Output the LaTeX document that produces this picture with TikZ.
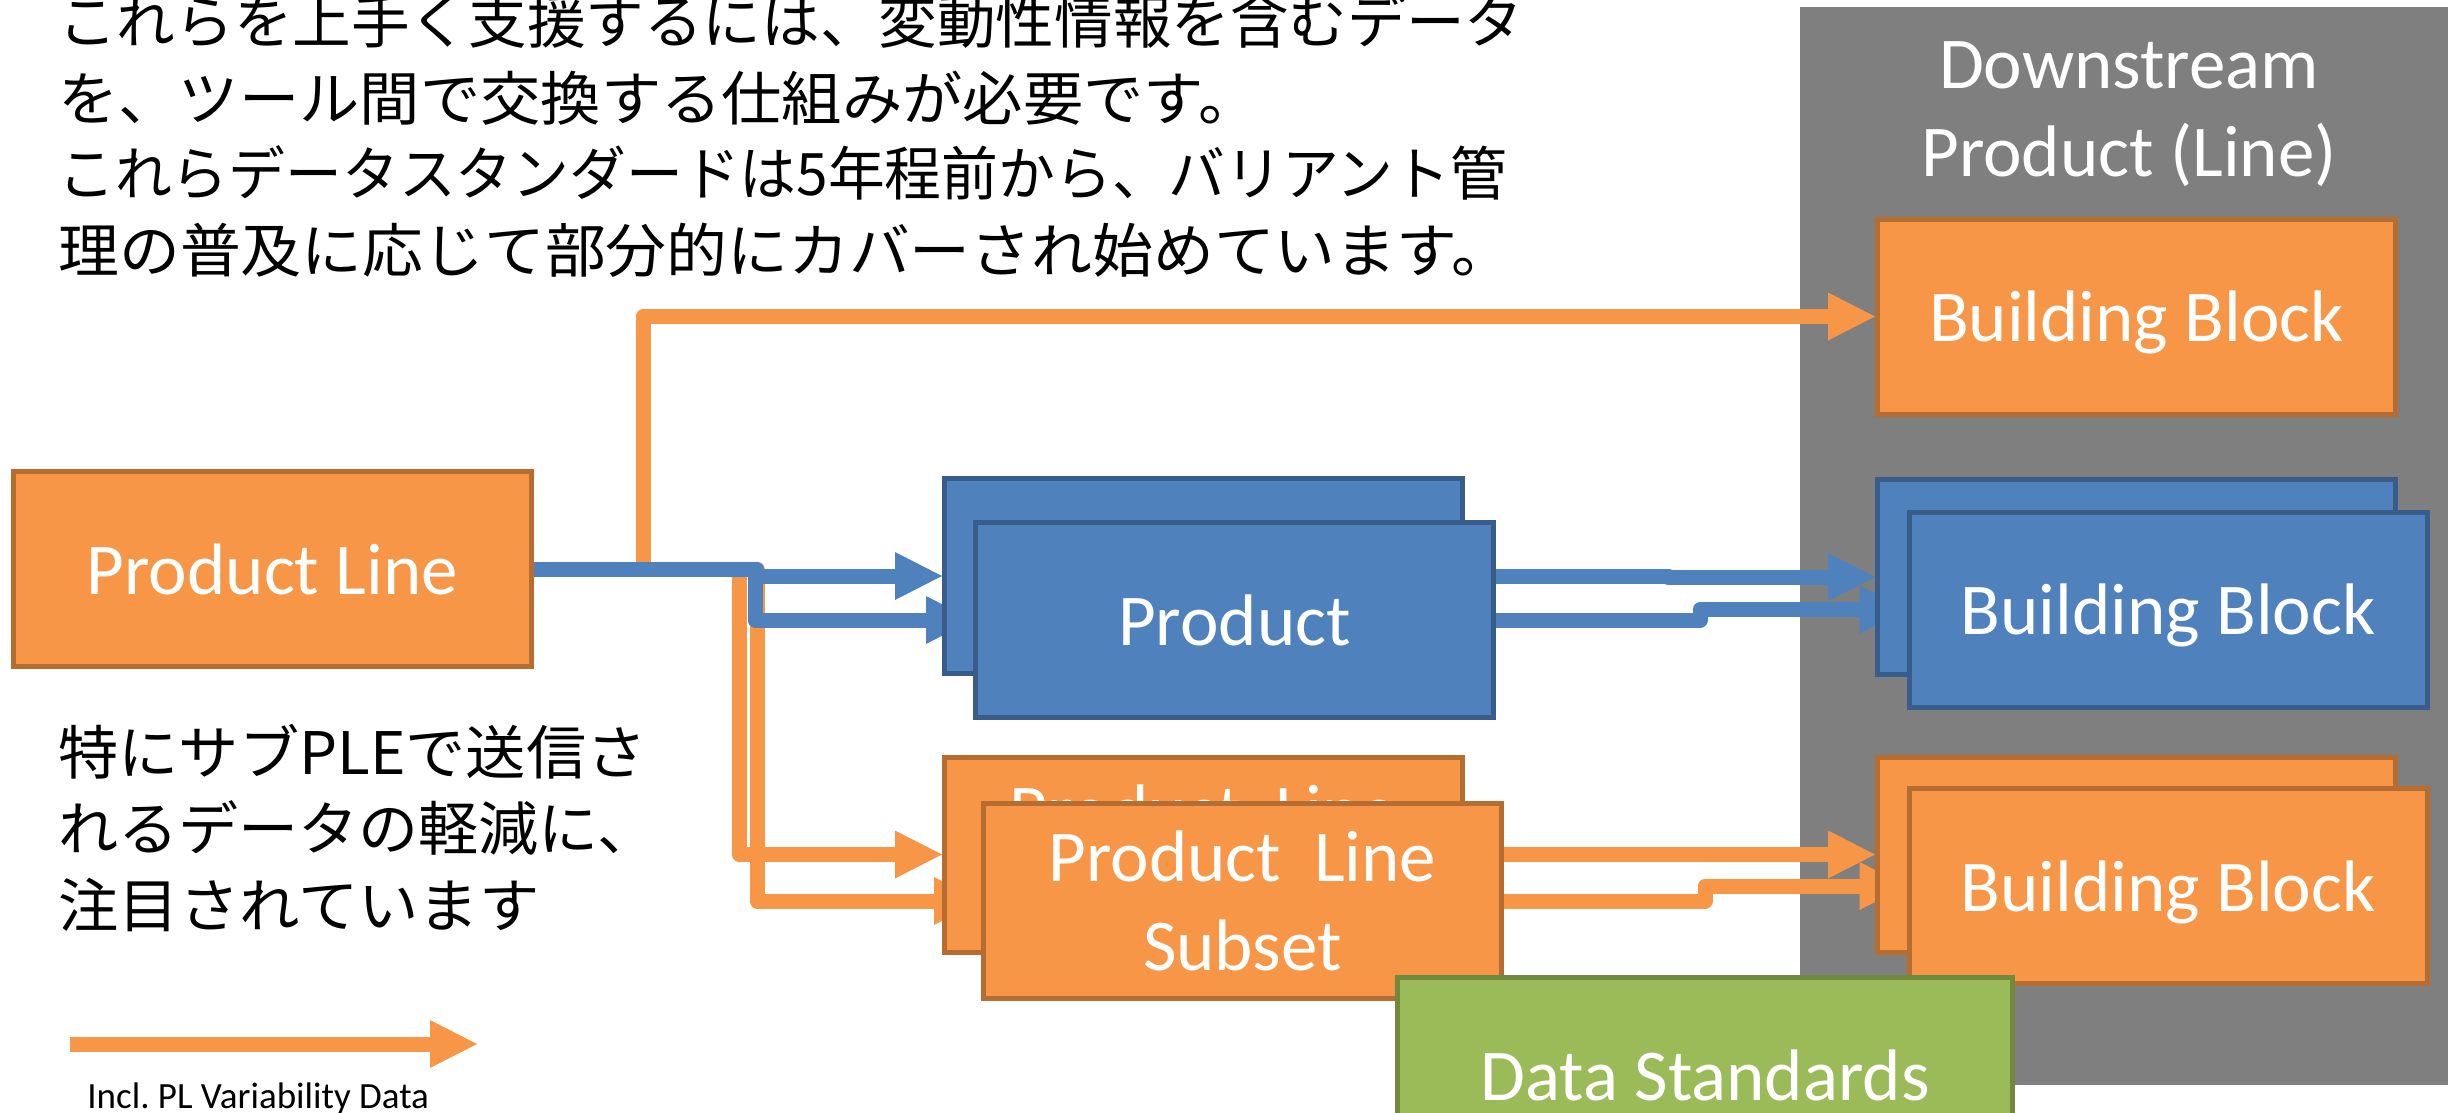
\documentclass[tikz,border=0pt]{standalone}
\usepackage{graphicx}
\usepackage{fontspec}
\setmainfont{Carlito}
\newfontfamily\jpfont{Noto Sans CJK JP}
\usetikzlibrary{arrows.meta}
\definecolor{orfill}{HTML}{F79646}
\definecolor{ordraw}{HTML}{B66D31}
\definecolor{blfill}{HTML}{4F81BD}
\definecolor{bldraw}{HTML}{385D8A}
\definecolor{grfill}{HTML}{9BBB59}
\definecolor{grdraw}{HTML}{71893F}
\definecolor{panelgray}{HTML}{7F7F7F}
\begin{document}
\begin{tikzpicture}[x=0.5pt,y=-0.5pt,
  box/.style={rectangle, line width=2.5pt, minimum width=259pt, minimum height=97.5pt,
    inner sep=0pt, text=white, font=\fontsize{36.5pt}{44.5pt}\selectfont},
  obox/.style={box, fill=orfill, draw=ordraw},
  bbox/.style={box, fill=blfill, draw=bldraw},
  gbox/.style={box, fill=grfill, draw=grdraw},
  oneline/.style={text height=25pt, text depth=0pt},
  conn/.style={line width=7.5pt, line join=round,
    -{Triangle[length=23.5pt,width=24pt,line width=0pt]}},
  oconn/.style={conn, draw=orfill},
  bconn/.style={conn, draw=blfill},
  jp/.style={font=\jpfont\fontsize{29.3pt}{38pt}\selectfont, anchor=base west, inner sep=0pt},
]
\useasboundingbox (0,0) rectangle (2448,1113);
\clip (0,0) rectangle (2448,1113);

% downstream panel
\fill[panelgray] (1800,7) rectangle (2470,1085);
\node[inner sep=0pt, text=white, align=center, font=\fontsize{36.5pt}{44pt}\selectfont]
  (hdr) at (2129,114) {Downstream\\Product (Line)};

% Japanese texts
\node[jp] (t1) at (58,44) {これらを上手く支援するには、変動性情報を含むデータ};
\node[jp] (t2) at (58,120) {\scalebox{1.029}[1]{を、ツール間で交換する仕組みが必要です。}};
\node[jp] (t3) at (58,196) {\scalebox{0.969}[1]{これらデータスタンダードは5年程前から、バリアント管}};
\node[jp] (t4) at (58,272) {\scalebox{1.038}[1]{理の普及に応じて部分的にカバーされ始めています。}};
\node[jp] (m1) at (58,774) {\scalebox{1.028}[1]{特にサブPLEで送信さ}};
\node[jp] (m2) at (58,850) {\scalebox{1.025}[1]{れるデータの軽減に、}};
\node[jp] (m3) at (58,927) {\scalebox{1.03}[1]{注目されています}};

% main nodes
\path (272.5,569) node[obox, oneline] (pl) {Product Line};
\path (2136.5,316.5) node[obox, oneline] (bbt) {Building Block};

% anchors for back/front boxes (drawn after the connectors)
\path (1203.5,576) node[box, draw=none, fill=none] (pb) {};
\path (1234.5,620) node[box, draw=none, fill=none] (pf) {};
\path (1203.5,854.5) node[box, draw=none, fill=none] (sb) {};
\path (1242.5,901) node[box, draw=none, fill=none] (sf) {};
\path (2136.5,577) node[box, draw=none, fill=none] (bbb) {};
\path (2168,609.5) node[box, draw=none, fill=none] (bbf) {};
\path (2136.5,854.5) node[box, draw=none, fill=none] (obb) {};
\path (2168,886) node[box, draw=none, fill=none] (obf) {};

% orange connectors
\draw[oconn] (pl.east) -- ++(109,0) |- (bbt.west);
\draw[oconn] (pl.east) -- ++(205,0) |- (sb.west);
\draw[oconn] (pl.east) -- ++(223,0) |- (sf.west);
\draw[oconn] (sb.east) -- ++(207,0) |- (obb.west);
\draw[oconn] (sf.east) -- ++(201,0) |- (obf.west);
% blue connectors
\draw[bconn] (pl.east) -- ++(222,0) |- (pb.west);
\draw[bconn] (pl.east) -- ++(221,0) |- (pf.west);
\draw[bconn] (pb.east) -- ++(203,0) |- (bbb.west);
\draw[bconn] (pf.east) -- ++(204,0) |- (bbf.west);

% boxes: back ones, then front ones
\node[bbox] at (pb) {};
\node[obox, align=center] at (sb) {Product\ \ Line\\Subset};
\node[bbox] at (bbb) {};
\node[obox] at (obb) {};
\node[bbox, oneline] at (pf) {Product};
\node[obox, align=center] at (sf) {Product\ \ Line\\Subset};
\node[bbox, oneline] at (bbf) {Building Block};
\node[obox, oneline] at (obf) {Building Block};

% data standards
\node[gbox, oneline, minimum width=307.5pt] (ds) at (1705,1075) {Data Standards};

% legend
\coordinate (lgA) at (70,1044);
\coordinate (lgB) at (477,1044);
\draw[oconn] (lgA) -- (lgB);
\node[inner sep=0pt, anchor=base west, font=\fontsize{18.5pt}{22pt}\selectfont]
  (lgt) at (87,1108) {Incl.\ PL Variability Data};
\end{tikzpicture}
\end{document}
